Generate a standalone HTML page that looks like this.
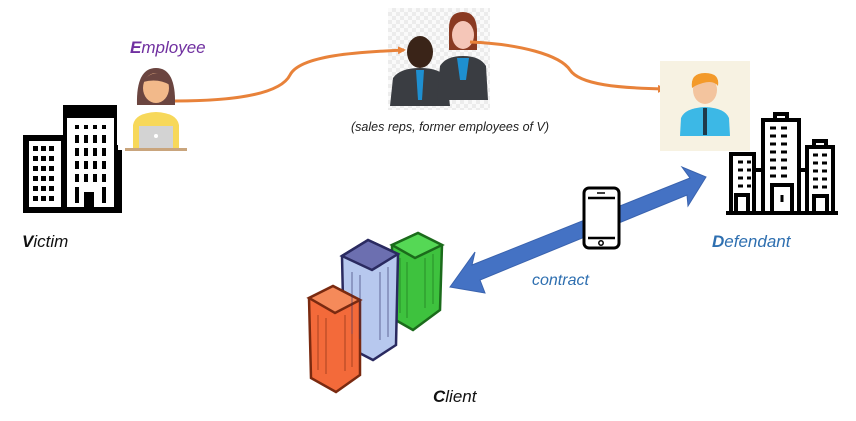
<!DOCTYPE html>
<html><head><meta charset="utf-8"><style>
html,body{margin:0;padding:0;background:#fff;width:856px;height:421px;overflow:hidden}
svg{display:block}
text{font-family:"Liberation Sans",sans-serif;font-style:italic}
</style></head><body>
<svg width="856" height="421" viewBox="0 0 856 421" xmlns="http://www.w3.org/2000/svg">
<defs>
<marker id="oa" markerWidth="8" markerHeight="8" refX="6" refY="4" orient="auto" markerUnits="userSpaceOnUse"><path d="M0,0 L8,4 L0,8 z" fill="#e8823a"/></marker>
<pattern id="chk" width="8" height="8" patternUnits="userSpaceOnUse"><rect width="8" height="8" fill="#fafafa"/><rect width="4" height="4" fill="#ececec"/><rect x="4" y="4" width="4" height="4" fill="#ececec"/></pattern>
</defs>

<!-- Victim building -->
<g fill="#000">
<rect x="23" y="135" width="42" height="78"/>
<rect x="63" y="105" width="55" height="108"/>
</g>
<rect x="29" y="141" width="32" height="66" fill="#fff"/>
<rect x="67" y="118" width="47" height="89" fill="#fff"/>
<rect x="63" y="115" width="4" height="98" fill="#000"/>
<g fill="#000">
<rect x="33" y="146" width="5" height="5"/><rect x="41" y="146" width="5" height="5"/><rect x="49" y="146" width="5" height="5"/>
<rect x="33" y="156" width="5" height="5"/><rect x="41" y="156" width="5" height="5"/><rect x="49" y="156" width="5" height="5"/>
<rect x="33" y="166" width="5" height="5"/><rect x="41" y="166" width="5" height="5"/><rect x="49" y="166" width="5" height="5"/>
<rect x="33" y="176" width="5" height="5"/><rect x="41" y="176" width="5" height="5"/><rect x="49" y="176" width="5" height="5"/>
<rect x="33" y="186" width="5" height="5"/><rect x="41" y="186" width="5" height="5"/><rect x="49" y="186" width="5" height="5"/>
<rect x="33" y="196" width="5" height="5"/><rect x="41" y="196" width="5" height="5"/><rect x="49" y="196" width="5" height="5"/>
<rect x="75" y="125" width="4" height="4"/><rect x="84" y="125" width="4" height="4"/><rect x="93" y="125" width="4" height="4"/><rect x="102" y="125" width="4" height="4"/>
<rect x="75" y="135" width="4" height="8"/><rect x="84" y="135" width="4" height="8"/><rect x="93" y="135" width="4" height="8"/><rect x="102" y="135" width="4" height="8"/>
<rect x="75" y="148" width="4" height="8"/><rect x="84" y="148" width="4" height="8"/><rect x="93" y="148" width="4" height="8"/><rect x="102" y="148" width="4" height="8"/>
<rect x="75" y="161" width="4" height="8"/><rect x="84" y="161" width="4" height="8"/><rect x="93" y="161" width="4" height="8"/><rect x="102" y="161" width="4" height="8"/>
<rect x="75" y="174" width="4" height="8"/><rect x="84" y="174" width="4" height="8"/><rect x="93" y="174" width="4" height="8"/><rect x="102" y="174" width="4" height="8"/>
<rect x="75" y="187" width="4" height="16"/><rect x="84" y="192" width="10" height="15"/><rect x="102" y="187" width="4" height="16"/>
</g>
<rect x="117" y="105" width="5" height="40" fill="#fff"/>
<rect x="117" y="150" width="5" height="63" fill="#000"/>

<!-- Employee woman -->
<path d="M137,105 Q136,68 156,68 Q176,68 175,105 Z" fill="#6b4540"/>
<ellipse cx="156" cy="88" rx="13" ry="15" fill="#f2b98a"/>
<path d="M143,82 Q150,70 166,74 Q170,80 170,85 Q158,78 143,82Z" fill="#6b4540"/>
<path d="M133,148 L133,125 Q135,113 156,112 Q177,113 179,125 L179,148 Z" fill="#f7d85a"/>
<rect x="139" y="126" width="34" height="22" fill="#d3d3d3"/>
<circle cx="156" cy="136" r="2" fill="#fff"/>
<rect x="125" y="148" width="62" height="3" fill="#c9a57d"/>

<text x="130" y="53" font-size="17" fill="#7030a0"><tspan font-weight="bold">E</tspan>mployee</text>
<text x="22" y="247" font-size="17" fill="#111"><tspan font-weight="bold">V</tspan>ictim</text>

<!-- group image -->
<rect x="388" y="8" width="102" height="102" fill="url(#chk)"/>
<g>
<ellipse cx="420" cy="52" rx="13" ry="16" fill="#3a2418"/>
<path d="M390,106 L393,78 Q400,68 420,68 Q440,68 447,78 L450,106Z" fill="#3a3d42"/>
<path d="M416,70 L424,70 L422,100 L418,100Z" fill="#1e8fd0"/>
<path d="M449,28 Q449,12 463,12 Q478,12 477,35 L477,50 L449,50Z" fill="#8a3a22"/>
<ellipse cx="463" cy="35" rx="11" ry="14" fill="#f5c6b8"/>
<path d="M437,100 L440,66 Q446,56 463,56 Q480,56 486,66 L488,100Z" fill="#3a3d42"/>
<path d="M457,58 L469,58 L466,80 L460,80Z" fill="#1e8fd0"/>
</g>
<text x="450" y="131" font-size="12.5" fill="#222" text-anchor="middle">(sales reps, former employees of V)</text>

<!-- orange arrows -->
<path d="M175,101 C230,101 280,95 290,75 C300,55 360,52 404,50" fill="none" stroke="#e8823a" stroke-width="3" marker-end="url(#oa)"/>
<path d="M470,42 C520,44 560,55 570,70 C580,85 620,88 664,89" fill="none" stroke="#e8823a" stroke-width="3" marker-end="url(#oa)"/>

<!-- defendant person -->
<rect x="660" y="61" width="90" height="90" fill="#f7f2e2"/>
<ellipse cx="705" cy="90" rx="12" ry="14" fill="#f3c49e"/>
<path d="M692,88 Q690,73 705,73 Q720,73 718,86 Q712,78 695,86Z" fill="#f39a2a"/>
<path d="M680,136 L681,118 Q685,108 705,107 Q725,108 729,118 L730,136Z" fill="#3cb8e6"/>
<rect x="703" y="108" width="4" height="27" fill="#1f3a4a"/>

<!-- defendant buildings -->
<g fill="none" stroke="#000" stroke-width="4">
<rect x="731" y="154" width="23" height="59" fill="#fff"/>
<rect x="763" y="120" width="36" height="93" fill="#fff"/>
<rect x="807" y="147" width="26" height="66" fill="#fff"/>
<rect x="772" y="185" width="20" height="28"/>
<rect x="736" y="195" width="12" height="18"/>
<rect x="814" y="196" width="13" height="17"/>
<rect x="775" y="114" width="12" height="6"/>
<rect x="814" y="141" width="12" height="6"/>
<line x1="754" y1="170" x2="763" y2="170"/>
<line x1="799" y1="170" x2="807" y2="170"/>
<line x1="726" y1="213" x2="838" y2="213"/>
</g>
<g stroke="#000" stroke-width="3">
<path d="M738,162h5M747,162h4M738,170h5M747,170h4M738,178h5M747,178h4M738,186h5M747,186h4" />
<path d="M770,128h6M781,128h6M770,136h6M781,136h6M770,144h6M781,144h6M770,152h6M781,152h6M770,160h6M781,160h6M770,168h6M781,168h6M770,176h6M781,176h6" />
<path d="M813,155h5M822,155h5M813,163h5M822,163h5M813,171h5M822,171h5M813,179h5M822,179h5M813,187h5M822,187h5"/>
<line x1="782" y1="195" x2="782" y2="202"/>
</g>
<text x="712" y="247" font-size="17" fill="#2e6fb0"><tspan font-weight="bold">D</tspan>efendant</text>

<!-- blue double arrow -->
<polygon points="450,287 475,252 472,265 690,178 682,167 706,177 688,206 687,195 480,280 485,293" fill="#4472c4" stroke="#3a63ae" stroke-width="1"/>

<!-- phone -->
<rect x="584" y="188" width="35" height="60" rx="5" fill="#fff" stroke="#000" stroke-width="3"/>
<line x1="588" y1="198" x2="615" y2="198" stroke="#000" stroke-width="2.5"/>
<line x1="588" y1="238" x2="615" y2="238" stroke="#000" stroke-width="2.5"/>
<circle cx="601" cy="243" r="2.2" fill="none" stroke="#000" stroke-width="1.5"/>
<line x1="597" y1="193" x2="605" y2="193" stroke="#000" stroke-width="1.5"/>

<text x="532" y="285" font-size="16" fill="#2e6fb0">contract</text>

<!-- client buildings -->
<g stroke-width="2.5">
<path d="M392,245 L418,233 L442,245 L440,310 L413,330 L392,318Z" fill="#3ec23e" stroke="#1b6b1b"/>
<path d="M392,245 L418,233 L442,245 L415,258Z" fill="#55d855" stroke="#1b6b1b"/>
<path d="M342,256 L368,240 L398,254 L396,345 L373,360 L344,345Z" fill="#b7c8ee" stroke="#2a2a60"/>
<path d="M342,256 L368,240 L398,254 L372,270Z" fill="#6c6fb0" stroke="#2a2a60"/>
<path d="M309,298 L333,286 L360,300 L360,375 L336,392 L311,378Z" fill="#f36a3a" stroke="#7a2a10"/>
<path d="M309,298 L333,286 L360,300 L335,313Z" fill="#f58a5a" stroke="#7a2a10"/>
</g>
<g stroke-width="1" opacity="0.6">
<path d="M318,315v55M326,318v56M345,315v56M352,311v56" stroke="#7a2a10"/>
<path d="M352,272v62M360,275v64M380,272v68M388,267v70" stroke="#2a2a60"/>
<path d="M400,258v55M407,262v56M425,258v50M433,254v50" stroke="#1b6b1b"/>
</g>
<text x="433" y="402" font-size="17" fill="#111"><tspan font-weight="bold">C</tspan>lient</text>
</svg>
</body></html>
